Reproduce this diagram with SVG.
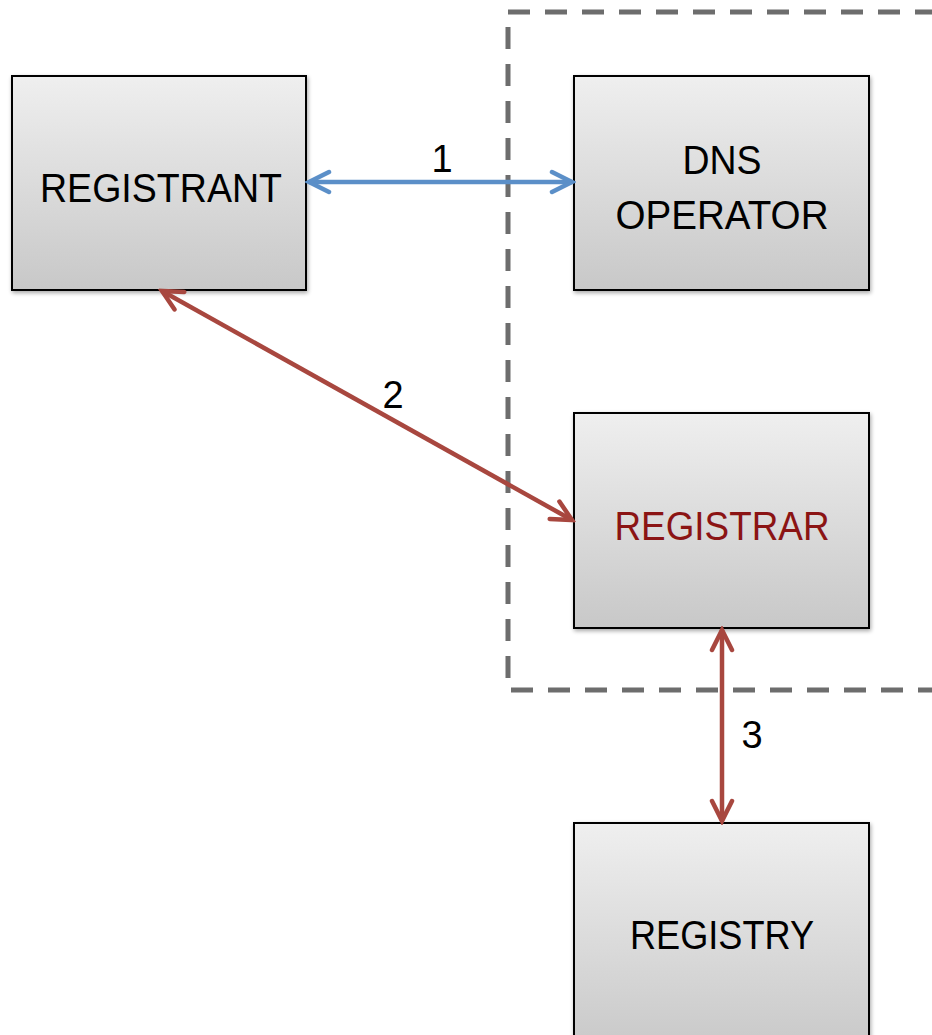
<svg xmlns="http://www.w3.org/2000/svg" width="932" height="1035" viewBox="0 0 932 1035">
<defs>
<linearGradient id="boxg" x1="0" y1="0" x2="0" y2="1">
<stop offset="0" stop-color="#efefef"/>
<stop offset="1" stop-color="#c8c8c8"/>
</linearGradient>
<filter id="sh" x="-10%" y="-10%" width="130%" height="130%">
<feGaussianBlur in="SourceAlpha" stdDeviation="2"/>
<feOffset dx="1" dy="2"/>
<feComponentTransfer><feFuncA type="linear" slope="0.35"/></feComponentTransfer>
<feMerge><feMergeNode/><feMergeNode in="SourceGraphic"/></feMerge>
</filter>
<marker id="ab" viewBox="-26 -14 30 28" refX="0" refY="0" markerWidth="30" markerHeight="28" markerUnits="userSpaceOnUse" orient="auto-start-reverse">
<path d="M -20 -10 L 0 0 L -20 10" fill="none" stroke="#5b8fc8" stroke-width="4.5" stroke-linecap="round" stroke-linejoin="miter"/>
</marker>
<marker id="ar" viewBox="-26 -14 30 28" refX="0" refY="0" markerWidth="30" markerHeight="28" markerUnits="userSpaceOnUse" orient="auto-start-reverse">
<path d="M -20 -10 L 0 0 L -20 10" fill="none" stroke="#a8473f" stroke-width="4.5" stroke-linecap="round" stroke-linejoin="miter"/>
</marker>
</defs>
<style>
.box{fill:url(#boxg);stroke:#000;stroke-width:2;filter:url(#sh)}
.t{font-family:"Liberation Sans",Arial,sans-serif;font-size:40px;fill:#000;text-anchor:middle}
.n{font-family:"Liberation Sans",Arial,sans-serif;font-size:38px;fill:#000;text-anchor:middle}
.blue{stroke:#5b8fc8;stroke-width:4.5;fill:none}
.red{stroke:#a8473f;stroke-width:4.5;fill:none}
</style>
<rect width="932" height="1035" fill="#ffffff"/>
<g id="boundary">
<path d="M 940 690 L 508 690 L 508 12 L 940 12" fill="none" stroke="#6d6d6d" stroke-width="5" stroke-dasharray="22 15"/>
</g>
<g id="registrant">
<rect class="box" x="12" y="76" width="294" height="214"/>
<text class="t" x="161" y="202" textLength="242" lengthAdjust="spacingAndGlyphs">REGISTRANT</text>
</g>
<g id="dns-operator">
<rect class="box" x="574" y="76" width="295" height="214"/>
<text class="t" x="722" y="174" textLength="79" lengthAdjust="spacingAndGlyphs">DNS</text>
<text class="t" x="722" y="229" textLength="213" lengthAdjust="spacingAndGlyphs">OPERATOR</text>
</g>
<g id="registrar">
<rect class="box" x="574" y="413" width="295" height="215"/>
<text class="t" x="722" y="540" textLength="215" lengthAdjust="spacingAndGlyphs" style="fill:#8b1414">REGISTRAR</text>
</g>
<g id="registry">
<rect class="box" x="574" y="823" width="295" height="230"/>
<text class="t" x="722" y="949" textLength="184" lengthAdjust="spacingAndGlyphs">REGISTRY</text>
</g>
<g id="connectors">
<line class="blue" x1="309" y1="182" x2="572" y2="182" marker-start="url(#ab)" marker-end="url(#ab)"/>
<line class="red" x1="162" y1="291" x2="572" y2="520" marker-start="url(#ar)" marker-end="url(#ar)"/>
<line class="red" x1="722" y1="630" x2="722" y2="821" marker-start="url(#ar)" marker-end="url(#ar)"/>
<text class="n" x="442" y="172">1</text>
<text class="n" x="393" y="408">2</text>
<text class="n" x="752" y="748">3</text>
</g>
</svg>
